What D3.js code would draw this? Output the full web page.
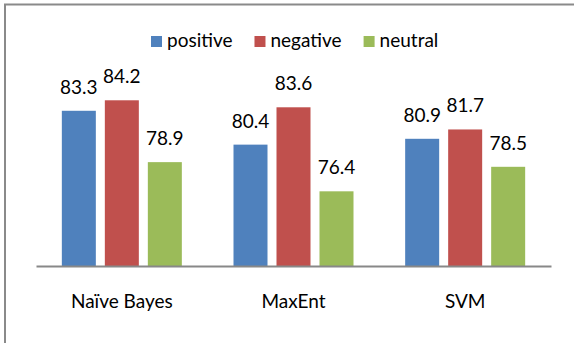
<!DOCTYPE html>
<html>
<head>
<meta charset="utf-8">
<script src="https://cdn.jsdelivr.net/npm/d3@7"></script>
<style>
  html, body { margin: 0; padding: 0; background: #fff; }
  svg { display: block; font-family: Lato, "Open Sans", sans-serif; }
</style>
</head>
<body>
<svg id="chart" width="574" height="343"></svg>
<script>
// Sentiment classification accuracy (%) per classifier
const classifiers = ["Naïve Bayes", "MaxEnt", "SVM"];
const seriesNames = ["positive", "negative", "neutral"];
const positive = [83.3, 80.4, 80.9];
const negative = [84.2, 83.6, 81.7];
const neutral  = [78.9, 76.4, 78.5];
const seriesColors = ["#4F81BD", "#C0504D", "#9BBB59"];

const seriesValues = [positive, negative, neutral];
const rows = classifiers.map((c, i) => ({
  name: c,
  values: seriesNames.map((s, j) => ({ series: s, value: seriesValues[j][i], color: seriesColors[j] }))
}));

const svg = d3.select("#chart");
const fontSize = 19;
const fontFamily = "Lato, 'Open Sans', sans-serif";

// Outer frame (extends past the right and bottom edges)
svg.append("rect")
  .attr("x", 5).attr("y", 4.5)
  .attr("width", 600).attr("height", 400)
  .attr("fill", "none")
  .attr("stroke", "#8a8a8a")
  .attr("stroke-width", 2);

const plot = { left: 36, right: 551, base: 266 };

const x0 = d3.scaleBand()
  .domain(classifiers)
  .range([plot.left, plot.right])
  .paddingInner(0)
  .paddingOuter(0);

const step = 43, barW = 34;
const x1 = d3.scaleBand()
  .domain(seriesNames)
  .range([-step * 1.5, step * 1.5])
  .paddingInner((step - barW) / step)
  .paddingOuter((step - barW) / step / 2);

const y = d3.scaleLinear().domain([70, 86]).range([plot.base, plot.base - 16 * 11.67]);

const groups = svg.append("g").selectAll("g")
  .data(rows)
  .join("g")
  .attr("transform", d => `translate(${x0(d.name) + x0.bandwidth() / 2},0)`);

groups.selectAll("rect")
  .data(d => d.values)
  .join("rect")
  .attr("x", d => x1(d.series))
  .attr("y", d => y(d.value))
  .attr("width", x1.bandwidth())
  .attr("height", d => y(70) - y(d.value))
  .attr("fill", d => d.color);

groups.selectAll("text")
  .data(d => d.values)
  .join("text")
  .attr("x", d => x1(d.series) + x1.bandwidth() / 2)
  .attr("y", d => y(d.value) - 17)
  .attr("text-anchor", "middle")
  .attr("font-size", fontSize)
  .attr("fill", "#000")
  .text(d => d.value.toFixed(1));

// Category axis: baseline and labels
const xAxis = svg.append("g")
  .attr("transform", `translate(0,${plot.base})`)
  .call(d3.axisBottom(x0).tickSize(0).tickPadding(0));
xAxis.select(".domain").attr("stroke", "#888").attr("stroke-width", 2);
xAxis.selectAll(".tick text")
  .attr("y", 42)
  .attr("dy", 0)
  .attr("font-size", fontSize)
  .attr("font-family", fontFamily)
  .attr("fill", "#000");

// Legend
const legend = svg.append("g");
let lx = 151;
seriesNames.forEach((s, i) => {
  legend.append("rect")
    .attr("x", lx).attr("y", 36)
    .attr("width", 11).attr("height", 11)
    .attr("fill", seriesColors[i]);
  const t = legend.append("text")
    .attr("x", lx + 16).attr("y", 47)
    .attr("font-size", fontSize)
    .attr("fill", "#000")
    .text(s);
  lx += 16 + t.node().getComputedTextLength() + 22;
});
</script>
</body>
</html>
